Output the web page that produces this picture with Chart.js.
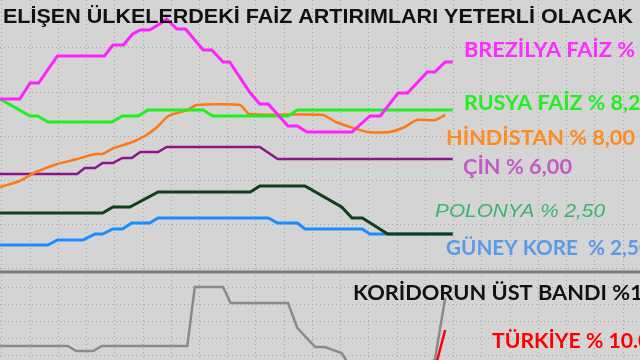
<!DOCTYPE html>
<html lang="tr">
<head>
<meta charset="utf-8">
<title>Gelişen ülkelerde faiz artırımları</title>
<script src="https://cdn.jsdelivr.net/npm/chart.js@4.4.1/dist/chart.umd.min.js"></script>
<style>
  html, body { margin: 0; padding: 0; background: #d4d4d4; }
  #kutu { width: 640px; height: 360px; position: relative; }
</style>
</head>
<body>
<div id="kutu"><canvas id="grafik"></canvas></div>
<script>
// Seriler: [ay, değer] çiftleri
const brezilya = [[0, 26.1], [2.1, 26.1], [3.2, 27.7], [4.1, 27.7], [6.1, 30.4], [11.1, 30.4], [12.0, 31.5], [13.1, 31.5],
  [14.1, 32.6], [14.9, 33.0], [15.9, 33.0], [17.3, 33.8], [17.7, 34.1], [18.8, 33.1], [19.7, 33.1], [21.6, 31.0],
  [22.5, 31.0], [23.7, 29.8], [24.4, 29.8], [26.6, 26.7], [27.6, 25.6], [28.5, 25.6], [30.6, 23.4], [31.6, 23.4],
  [32.6, 22.8], [37.4, 22.8], [39.3, 24.4], [40.4, 24.4], [42.3, 26.7], [43.3, 26.7], [45.4, 28.8], [46.2, 28.8],
  [47.3, 29.8], [48.1, 29.8]];
const rusya = [[0, 26.1], [3.2, 24.4], [4.0, 24.4], [5.1, 23.8], [11.9, 23.8], [13.0, 24.4], [14.7, 24.4], [15.7, 25.0],
  [21.6, 25.0], [22.6, 24.4], [30.6, 24.4], [31.6, 25.0], [48.1, 25.0]];
const hindistan = [[0, 17.3], [2.1, 17.9], [3.6, 18.7], [6.1, 19.6], [8.2, 20.1], [10.1, 20.6], [10.9, 20.6], [12.1, 21.2],
  [13.8, 21.7], [15.4, 22.4], [16.7, 23.3], [17.9, 24.4], [19.9, 25.0], [20.9, 25.5], [25.5, 25.5], [26.5, 24.6],
  [34.3, 24.5], [35.7, 23.8], [37.2, 23.3], [39.1, 22.8], [41.4, 22.8], [43.0, 23.3], [44.3, 24.0], [46.2, 24.0],
  [47.3, 24.5]];
const cin = [[0, 18.6], [8.2, 18.6], [9.0, 19.2], [10.1, 19.2], [10.9, 19.7], [12.0, 19.7], [13.0, 20.2], [14.0, 20.2],
  [14.9, 20.8], [16.8, 20.8], [17.7, 21.3], [27.6, 21.3], [29.5, 20.1], [48.1, 20.1]];
const polonya = [[0, 14.7], [10.9, 14.7], [12.0, 15.3], [13.8, 15.3], [16.8, 16.8], [26.6, 16.8], [27.6, 17.4], [32.4, 17.4],
  [36.3, 15.3], [37.4, 14.2], [38.5, 14.2], [41.2, 12.6], [48.1, 12.6]];
const guneyKore = [[0, 11.5], [5.1, 11.5], [6.1, 12.0], [8.8, 12.0], [10.1, 12.6], [10.9, 12.6], [12.0, 13.1], [13.0, 13.1],
  [14.0, 13.7], [15.9, 13.7], [16.8, 14.2], [28.5, 14.2], [29.5, 13.7], [31.6, 13.7], [32.4, 13.1], [38.5, 13.1],
  [39.3, 12.6], [48.1, 12.6]];
const koridor = [[0, 1.4], [7.2, 1.4], [8.1, 0.9], [9.9, 0.9], [10.8, 1.4], [19.9, 1.4], [20.7, 7.3], [23.7, 7.3],
  [24.5, 5.7], [30.6, 5.7], [31.6, 3.2], [33.5, 1.3], [34.5, 1.3], [36.3, 0.7], [36.9, -0.2], [41.4, -2.0],
  [46.2, 0], [47.3, 6.2]];
const turkiye = [[46.4, -0.2], [47.3, 3.0]];
const ustBant = [[0, 8.8], [68, 8.8]];

// Izgara çizgileri
const yatayCizgiler = [31.2, 26.8, 22.4, 18.0, 13.6, 9.2, 7.3, 5.6, 3.9, 2.2, 0.5];
const dikeyCizgiler = Array.from({ length: 23 }, (_, i) => 0.2 + i * 3);

// Yazılar: metin, genişliği ölçülen kısım ve hedef genişlik
const etiketler = [
  { metin: 'ELİŞEN ÜLKELERDEKİ FAİZ ARTIRIMLARI YETERLİ OLACAK', olcu: 'ELİŞEN ÜLKELERDEKİ FAİZ ARTIRIMLARI YETERLİ OLACAK',
    x: 3, y: 23, genislik: 630, font: 'bold 20px "Liberation Sans"', renk: '#111111' },
  { metin: 'BREZİLYA FAİZ % 10,75', olcu: 'BREZİLYA FAİZ %', x: 464, y: 57, genislik: 171, font: 'bold 21px Lato', renk: '#ff2bff' },
  { metin: 'RUSYA FAİZ % 8,25', olcu: 'RUSYA FAİZ % 8,', x: 464, y: 110, genislik: 164, font: 'bold 20px Lato', renk: '#22ee22' },
  { metin: 'HİNDİSTAN % 8,00', olcu: 'HİNDİSTAN % 8,00', x: 446, y: 145, genislik: 189, font: 'bold 20px Lato', renk: '#ff8a1e' },
  { metin: 'ÇİN % 6,00', olcu: 'ÇİN % 6,00', x: 463, y: 174, genislik: 109, font: 'bold 21px Lato', renk: '#c25cc2' },
  { metin: 'POLONYA % 2,50', olcu: 'POLONYA % 2,50', x: 435, y: 217, genislik: 170, font: 'italic 19px "Liberation Sans"', renk: '#3cb46e' },
  { metin: 'GÜNEY KORE  % 2,50', olcu: 'GÜNEY KORE', x: 446, y: 255, genislik: 132, font: 'bold 20px Lato', renk: '#5b9ae8' },
  { metin: 'KORİDORUN ÜST BANDI %12', olcu: 'KORİDORUN ÜST BANDI', x: 353, y: 300, genislik: 254, font: 'bold 20px Lato', renk: '#111111' },
  { metin: 'TÜRKİYE % 10.00', olcu: 'TÜRKİYE % 10.', x: 492, y: 348, genislik: 146, font: 'bold 21px Lato', renk: '#ff0000' }
];

function seri(ad, noktalar, renk, kalinlik, egri) {
  return {
    label: ad,
    data: noktalar.map(([x, y]) => ({ x, y })),
    borderColor: renk,
    borderWidth: kalinlik,
    pointRadius: 0,
    tension: egri || 0,
    fill: false
  };
}

// Yazıları çizgilerin üstüne yaz
const yaziEklentisi = {
  id: 'yazilar',
  afterDatasetsDraw(chart) {
    const ctx = chart.ctx;
    etiketler.forEach(e => {
      ctx.save();
      ctx.font = e.font;
      ctx.fillStyle = e.renk;
      ctx.textBaseline = 'alphabetic';
      const olcek = e.genislik / ctx.measureText(e.olcu).width;
      ctx.translate(e.x, e.y);
      ctx.scale(olcek, 1);
      ctx.fillText(e.metin, 0, 0);
      ctx.restore();
    });
  }
};

function ciz() {
  new Chart(document.getElementById('grafik'), {
    type: 'line',
    data: {
      datasets: [
        seri('Brezilya', brezilya, '#ff22ff', 3),
        seri('Türkiye', turkiye, '#ff0000', 2.5),
        seri('Polonya', polonya, '#0f3f1b', 3),
        seri('Rusya', rusya, '#1ff01f', 3),
        seri('Hindistan', hindistan, '#ff7812', 2.5, 0.2),
        seri('Çin', cin, '#8a168a', 2.5),
        seri('Güney Kore', guneyKore, '#1a8cff', 3),
        seri('Koridor', koridor, '#8a8a8a', 2.5),
        seri('Üst bant', ustBant, '#7c7c7c', 3)
      ]
    },
    options: {
      responsive: true,
      maintainAspectRatio: false,
      animation: false,
      layout: { padding: 0 },
      plugins: {
        legend: { display: false },
        tooltip: { enabled: false }
      },
      scales: {
        x: {
          type: 'linear',
          min: 0,
          max: 68,
          afterBuildTicks: s => { s.ticks = dikeyCizgiler.map(v => ({ value: v })); },
          ticks: { display: false },
          grid: { color: '#a6a6a6', lineWidth: 1, drawTicks: false },
          border: { display: false, dash: [1, 3] }
        },
        y: {
          min: 0,
          max: 36,
          afterBuildTicks: s => { s.ticks = yatayCizgiler.map(v => ({ value: v })); },
          ticks: { display: false },
          grid: { color: '#a6a6a6', lineWidth: 1, drawTicks: false },
          border: { display: false, dash: [1, 3] }
        }
      }
    },
    plugins: [yaziEklentisi]
  });
}

Promise.all([
  document.fonts.load('bold 20px Lato'),
  document.fonts.load('bold 20px "Liberation Sans"'),
  document.fonts.load('italic 19px "Liberation Sans"')
]).then(ciz, ciz);
</script>
</body>
</html>
